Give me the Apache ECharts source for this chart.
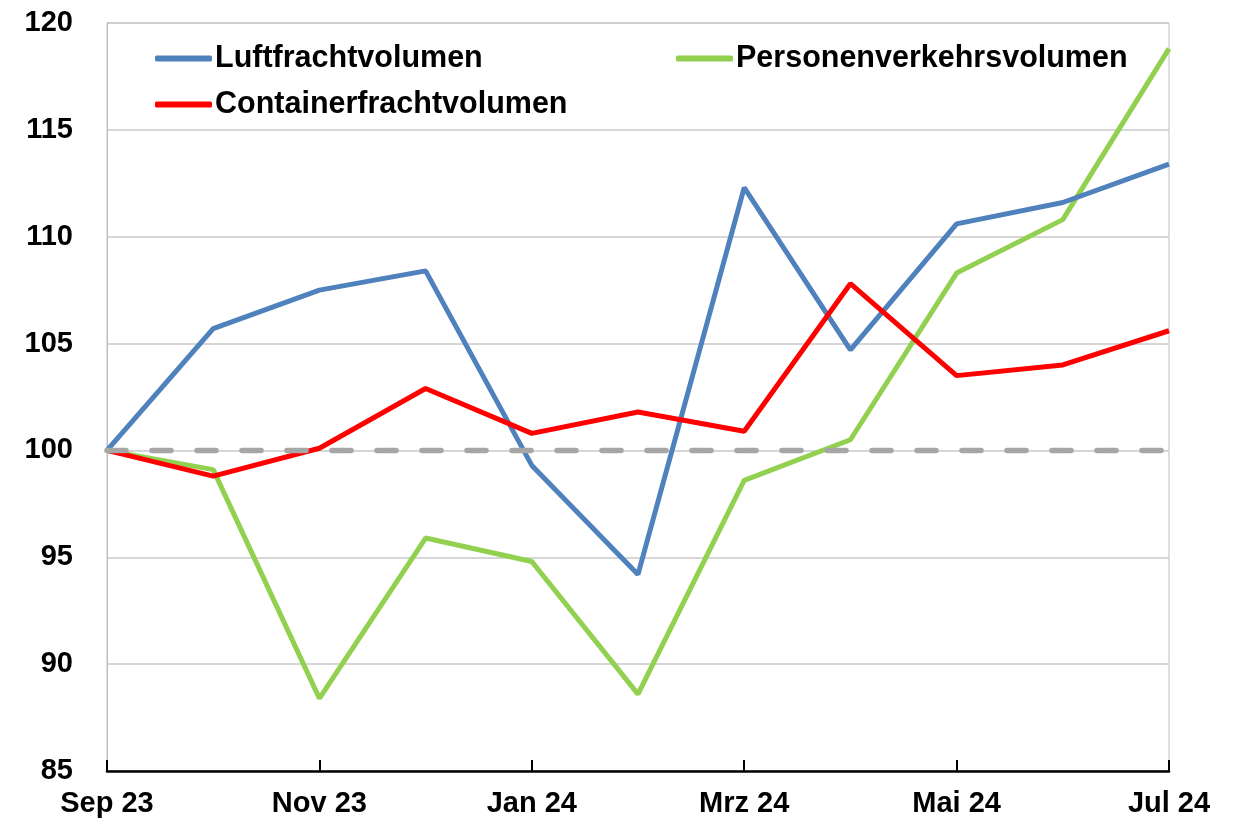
<!DOCTYPE html>
<html><head><meta charset="utf-8">
<script src="https://cdn.jsdelivr.net/npm/echarts@6/dist/echarts.min.js"></script>
<style>html,body{margin:0;padding:0;background:#fff}#c{width:1237px;height:825px}</style>
</head><body><div id="c"></div>
<script>
const categories = ['Sep 23','Okt 23','Nov 23','Dez 23','Jan 24','Feb 24','Mrz 24','Apr 24','Mai 24','Jun 24','Jul 24'];
const luftfracht = [100, 105.7, 107.5, 108.4, 99.3, 94.2, 112.3, 104.7, 110.6, 111.6, 113.4];
const personen = [100, 99.1, 88.4, 95.9, 94.8, 88.6, 98.6, 100.5, 108.3, 110.8, 118.8];
const container = [100, 98.8, 100.1, 102.9, 100.8, 101.8, 100.9, 107.8, 103.5, 104.0, 105.6];
const baseline = [100,100,100,100,100,100,100,100,100,100,100];
const yTicks = [85, 90, 95, 100, 105, 110, 115, 120];

const FONT = 'Liberation Sans, Arial, sans-serif';
const chart = echarts.init(document.getElementById('c'), null, {renderer:'canvas'});
const legendText = {fontFamily: FONT, fontWeight: 'bold', fontSize: 30.5, color: '#000', padding: [0,0,0,-2]};
chart.setOption({
  animation: false,
  backgroundColor: '#fff',
  grid: {left: 107, right: 68, top: 23, bottom: 54, show: true, borderColor: '#bfbfbf', borderWidth: 1},
  legend: [
    {orient: 'vertical', left: 150, top: 38, itemWidth: 57, itemHeight: 6, itemGap: 15, icon: 'roundRect',
     textStyle: legendText,
     data: ['Luftfrachtvolumen', 'Containerfrachtvolumen']},
    {orient: 'horizontal', left: 671, top: 38, itemWidth: 57, itemHeight: 6, icon: 'roundRect',
     textStyle: legendText,
     data: ['Personenverkehrsvolumen']}
  ],
  xAxis: {
    type: 'category', data: categories, boundaryGap: false,
    axisLine: {lineStyle: {color: '#000', width: 2.5}},
    axisTick: {show: true, inside: true, length: 11, interval: 1, lineStyle: {color: '#000', width: 2}},
    axisLabel: {interval: 1, margin: 18, fontFamily: FONT, fontWeight: 'bold', fontSize: 29, color: '#000'},
    splitLine: {show: false}
  },
  yAxis: {
    type: 'value', min: yTicks[0], max: yTicks[yTicks.length-1], interval: 5,
    axisLine: {show: true, lineStyle: {color: '#bfbfbf', width: 1}},
    axisTick: {show: false},
    axisLabel: {margin: 34, fontFamily: FONT, fontWeight: 'bold', fontSize: 29, color: '#000'},
    splitLine: {lineStyle: {color: '#c8c8c8', width: 1.5}}
  },
  series: [
    {name: 'Luftfrachtvolumen', type: 'line', data: luftfracht, symbol: 'none', z: 3,
     lineStyle: {color: '#4f81bd', width: 5}, itemStyle: {color: '#4f81bd'}},
    {name: 'Personenverkehrsvolumen', type: 'line', data: personen, symbol: 'none', z: 2,
     lineStyle: {color: '#92d050', width: 5}, itemStyle: {color: '#92d050'}},
    {name: 'Containerfrachtvolumen', type: 'line', data: container, symbol: 'none', z: 4,
     lineStyle: {color: '#ff0000', width: 5}, itemStyle: {color: '#ff0000'}},
    {name: 'Basis', type: 'line', data: baseline, symbol: 'none', z: 5, silent: true,
     lineStyle: {color: '#a6a6a6', width: 5.5, type: [19, 26], cap: 'round'}}
  ]
});
</script></body></html>
